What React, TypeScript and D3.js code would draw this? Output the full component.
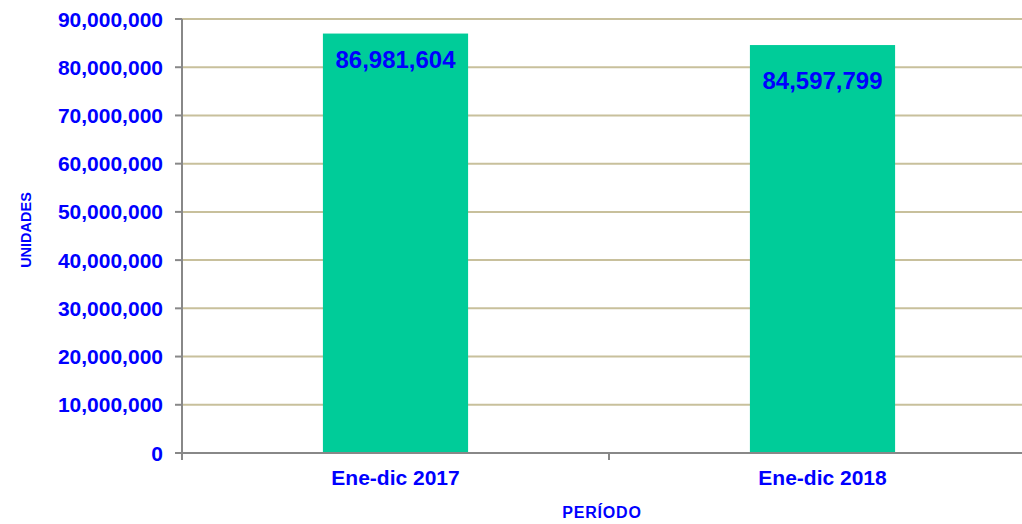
import React from "react";
import * as d3 from "d3";

const categories = ["Ene-dic 2017", "Ene-dic 2018"];
const values = [86981604, 84597799];
const yTicks = [0, 10000000, 20000000, 30000000, 40000000, 50000000, 60000000, 70000000, 80000000, 90000000];
const labelOffsets = [34, 44];

const W = 1022, H = 524;
const left = 182, right = 1036, top = 19, bottom = 453;
const blue = "#0000ff";
const font = "Liberation Sans, Arial, sans-serif";

export default function App() {
  const x = d3.scaleBand().domain(categories).range([left, right]).paddingInner(0).paddingOuter(0);
  const y = d3.scaleLinear().domain([0, 90000000]).range([bottom, top]);
  const bw = x.bandwidth() * 0.34;
  const fmt = d3.format(",");
  return (
    <svg width={W} height={H} style={{ position: "absolute", left: 0, top: 0 }} fontFamily={font}>
      {yTicks.filter((t) => t > 0).map((t) => (
        <line key={t} x1={left} x2={W} y1={y(t)} y2={y(t)} stroke="#c8c09c" strokeWidth={2} />
      ))}
      {categories.map((c, i) => {
        const cx = x(c)! + x.bandwidth() / 2;
        return (
          <g key={c}>
            <rect x={cx - bw / 2} y={y(values[i])} width={bw} height={bottom - y(values[i])} fill="#00cc99" />
            <text x={cx} y={y(values[i]) + labelOffsets[i]} textAnchor="middle" fontSize={24} fontWeight="bold" fill={blue}>
              {fmt(values[i])}
            </text>
            <text x={cx} y={485} textAnchor="middle" fontSize={21} fontWeight="bold" fill={blue}>
              {c}
            </text>
          </g>
        );
      })}
      <line x1={left} x2={left} y1={top} y2={bottom} stroke="#888" strokeWidth={2} />
      <line x1={left} x2={W} y1={bottom} y2={bottom} stroke="#888" strokeWidth={2} />
      {yTicks.map((t) => (
        <g key={t}>
          <line x1={175} x2={left} y1={y(t)} y2={y(t)} stroke="#888" strokeWidth={2} />
          <text x={163} y={y(t) + 7.5} textAnchor="end" fontSize={21} fontWeight="bold" fill={blue}>
            {fmt(t)}
          </text>
        </g>
      ))}
      {categories.map((c) => (
        <line key={c} x1={x(c)!} x2={x(c)!} y1={bottom} y2={460} stroke="#888" strokeWidth={2} />
      ))}
      <text transform="translate(31,230) rotate(-90)" textAnchor="middle" fontSize={14.5} fontWeight="bold" fill={blue}>
        UNIDADES
      </text>
      <text x={602} y={518} textAnchor="middle" fontSize={16} fontWeight="bold" fill={blue} letterSpacing={0.8}>
        PERÍODO
      </text>
    </svg>
  );
}
